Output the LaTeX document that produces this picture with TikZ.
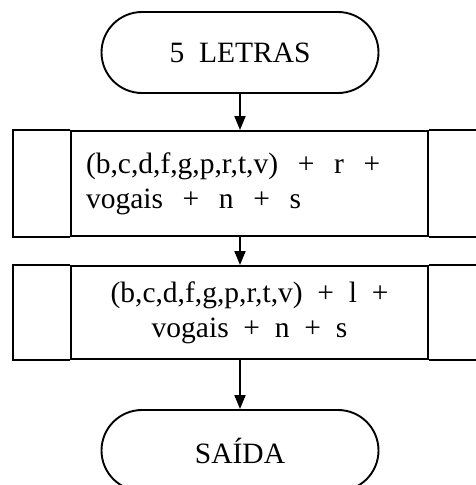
\documentclass[tikz,border=0pt]{standalone}
\usepackage{fontspec}
\setmainfont{Liberation Serif}
\usetikzlibrary{shapes.misc,arrows.meta,positioning}
\tikzset{
  term/.style = {draw, rounded rectangle, minimum width=277pt, minimum height=81pt, inner sep=0pt},
  proc/.style = {draw, rectangle, minimum width=357pt, inner sep=0pt},
  arr/.style = {-{Triangle[width=11pt,length=14pt]}}
}

\begin{document}
\begin{tikzpicture}[x=1pt, y=-1pt, line width=1.9pt, font=\fontsize{29.5}{35}\selectfont]
	\useasboundingbox (0,0) rectangle (476,485);
	\clip (0,0) rectangle (476,485);
	\node[term] (start) at (240,52.5) {5\ \ LETRAS};
	\node[proc, minimum height=105pt, text width=327pt, align=left] (p1) at (249.5,183.5)
		{(b,c,d,f,g,p,r,t,v)\ \ +\ \ r\ \ +\\vogais\ \ +\ \ n\ \ +\ \ s};
	\node[proc, minimum height=93pt, align=center] (p2) at (249.5,312.5)
		{(b,c,d,f,g,p,r,t,v)\ \ +\ \ l\ \ +\\vogais\ \ +\ \ n\ \ +\ \ s};
	\node[term] (end) at (240,450.5) {SAÍDA};
	% side cells
	\draw (p1.north west) -- ++(-57,0) |- (p1.south west);
	\draw (p1.north east) -- ++(60,0) (p1.south east) -- ++(60,0);
	\draw (p2.north west) -- ++(-57,0) |- (p2.south west);
	\draw (p2.north east) -- ++(60,0) (p2.south east) -- ++(60,0);
	\draw[arr] (start.south) -- (start.south |- p1.north);
	\draw[arr] (start.south |- p1.south) -- (start.south |- p2.north);
	\draw[arr] (start.south |- p2.south) -- (end.north);
\end{tikzpicture}
\end{document}
